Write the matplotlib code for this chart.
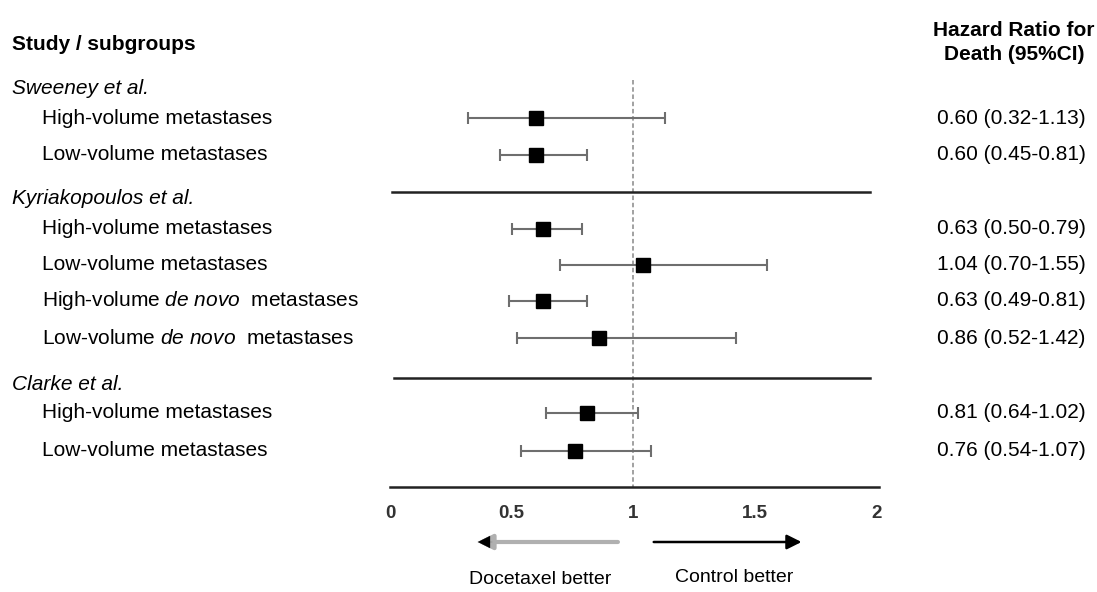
import matplotlib
matplotlib.use("Agg")
import matplotlib.pyplot as plt

# data
studies = ["Sweeney et al.", "Kyriakopoulos et al.", "Clarke et al."]
subgroups = [
    ["High-volume metastases", "Low-volume metastases"],
    ["High-volume metastases", "Low-volume metastases",
     r"High-volume $\mathit{de\ novo}$  metastases", r"Low-volume $\mathit{de\ novo}$  metastases"],
    ["High-volume metastases", "Low-volume metastases"],
]
hr = [[0.60, 0.60], [0.63, 1.04, 0.63, 0.86], [0.81, 0.76]]
ci_low = [[0.32, 0.45], [0.50, 0.70, 0.49, 0.52], [0.64, 0.54]]
ci_high = [[1.13, 0.81], [0.79, 1.55, 0.81, 1.42], [1.02, 1.07]]
xticks = [0, 0.5, 1, 1.5, 2]

plt.rcParams['font.family'] = ['Liberation Sans', 'DejaVu Sans']
plt.rcParams['mathtext.fontset'] = 'custom'
plt.rcParams['mathtext.rm'] = 'Liberation Sans'
plt.rcParams['mathtext.it'] = 'Liberation Sans:italic'

W, H = 1097, 592
x0_px, px_unit = 390, 243.5

fig = plt.figure(figsize=(W / 100, H / 100), dpi=100)
ax = fig.add_axes([0, 0, 1, 1])
ax.set_xlim(-x0_px / px_unit, (W - x0_px) / px_unit)
ax.set_ylim(H, 0)
ax.axis('off')

def fx(px):
    return px / W

def fy(py):
    return 1 - py / H

# layout (pixel rows)
header_y = [88, 199, 385]
row_y = [[118, 155], [229, 265, 301, 338], [413, 451]]
sep_lines = [(192, 0.008, 1.97), (378, 0.016, 1.97), (487, 0.0, 2.01)]

fs = 15
fig.text(fx(12), fy(44), "Study / subgroups", fontsize=fs, fontweight='bold', va='center')
fig.text(fx(1014), fy(30), "Hazard Ratio for", fontsize=fs, fontweight='bold', va='center', ha='center')
fig.text(fx(1014), fy(55), "Death (95%CI)", fontsize=fs, fontweight='bold', va='center', ha='center')

# reference line at HR = 1
ax.plot([1, 1], [80, 487], color='#9a9a9a', lw=1.3, ls=(0, (2.5, 1.5)), zorder=1)

for i, study in enumerate(studies):
    fig.text(fx(12), fy(header_y[i]), study, fontsize=fs, style='italic', va='center')
    for j, label in enumerate(subgroups[i]):
        y = row_y[i][j]
        fig.text(fx(42), fy(y), label, fontsize=fs, va='center')
        ax.errorbar(hr[i][j], y,
                    xerr=[[hr[i][j] - ci_low[i][j]], [ci_high[i][j] - hr[i][j]]],
                    fmt='s', color='black', ms=9.5, ecolor='#6e6e6e',
                    elinewidth=1.5, capsize=4.5, capthick=1.5, zorder=3)
        txt = "%.2f (%.2f-%.2f)" % (hr[i][j], ci_low[i][j], ci_high[i][j])
        fig.text(fx(937), fy(y), txt, fontsize=fs, va='center')

for y, xa, xb in sep_lines:
    ax.plot([xa, xb], [y, y], color='#222222', lw=1.8, zorder=2)

for t in xticks:
    ax.text(t, 514, "%g" % t, fontsize=13.5, fontweight='bold', color='#333333',
            ha='center', va='center')

# direction arrows
ax.annotate("", xy=(0.36, 542), xytext=(0.936, 542),
            arrowprops=dict(arrowstyle='-|>', color='#b0b0b0', lw=3,
                            mutation_scale=22, shrinkA=0, shrinkB=0))
ax.annotate("", xy=(0.36, 542), xytext=(0.42, 542),
            arrowprops=dict(arrowstyle='-|>', color='black', lw=0.1,
                            mutation_scale=22, shrinkA=0, shrinkB=0))
ax.annotate("", xy=(1.69, 542), xytext=(1.083, 542),
            arrowprops=dict(arrowstyle='-|>', color='black', lw=1.8,
                            mutation_scale=22, shrinkA=0, shrinkB=0))
fig.text(fx(540), fy(580), "Docetaxel better", fontsize=14, ha='center', va='center')
fig.text(fx(734), fy(578), "Control better", fontsize=14, ha='center', va='center')

fig.savefig("out.png", dpi=100)
